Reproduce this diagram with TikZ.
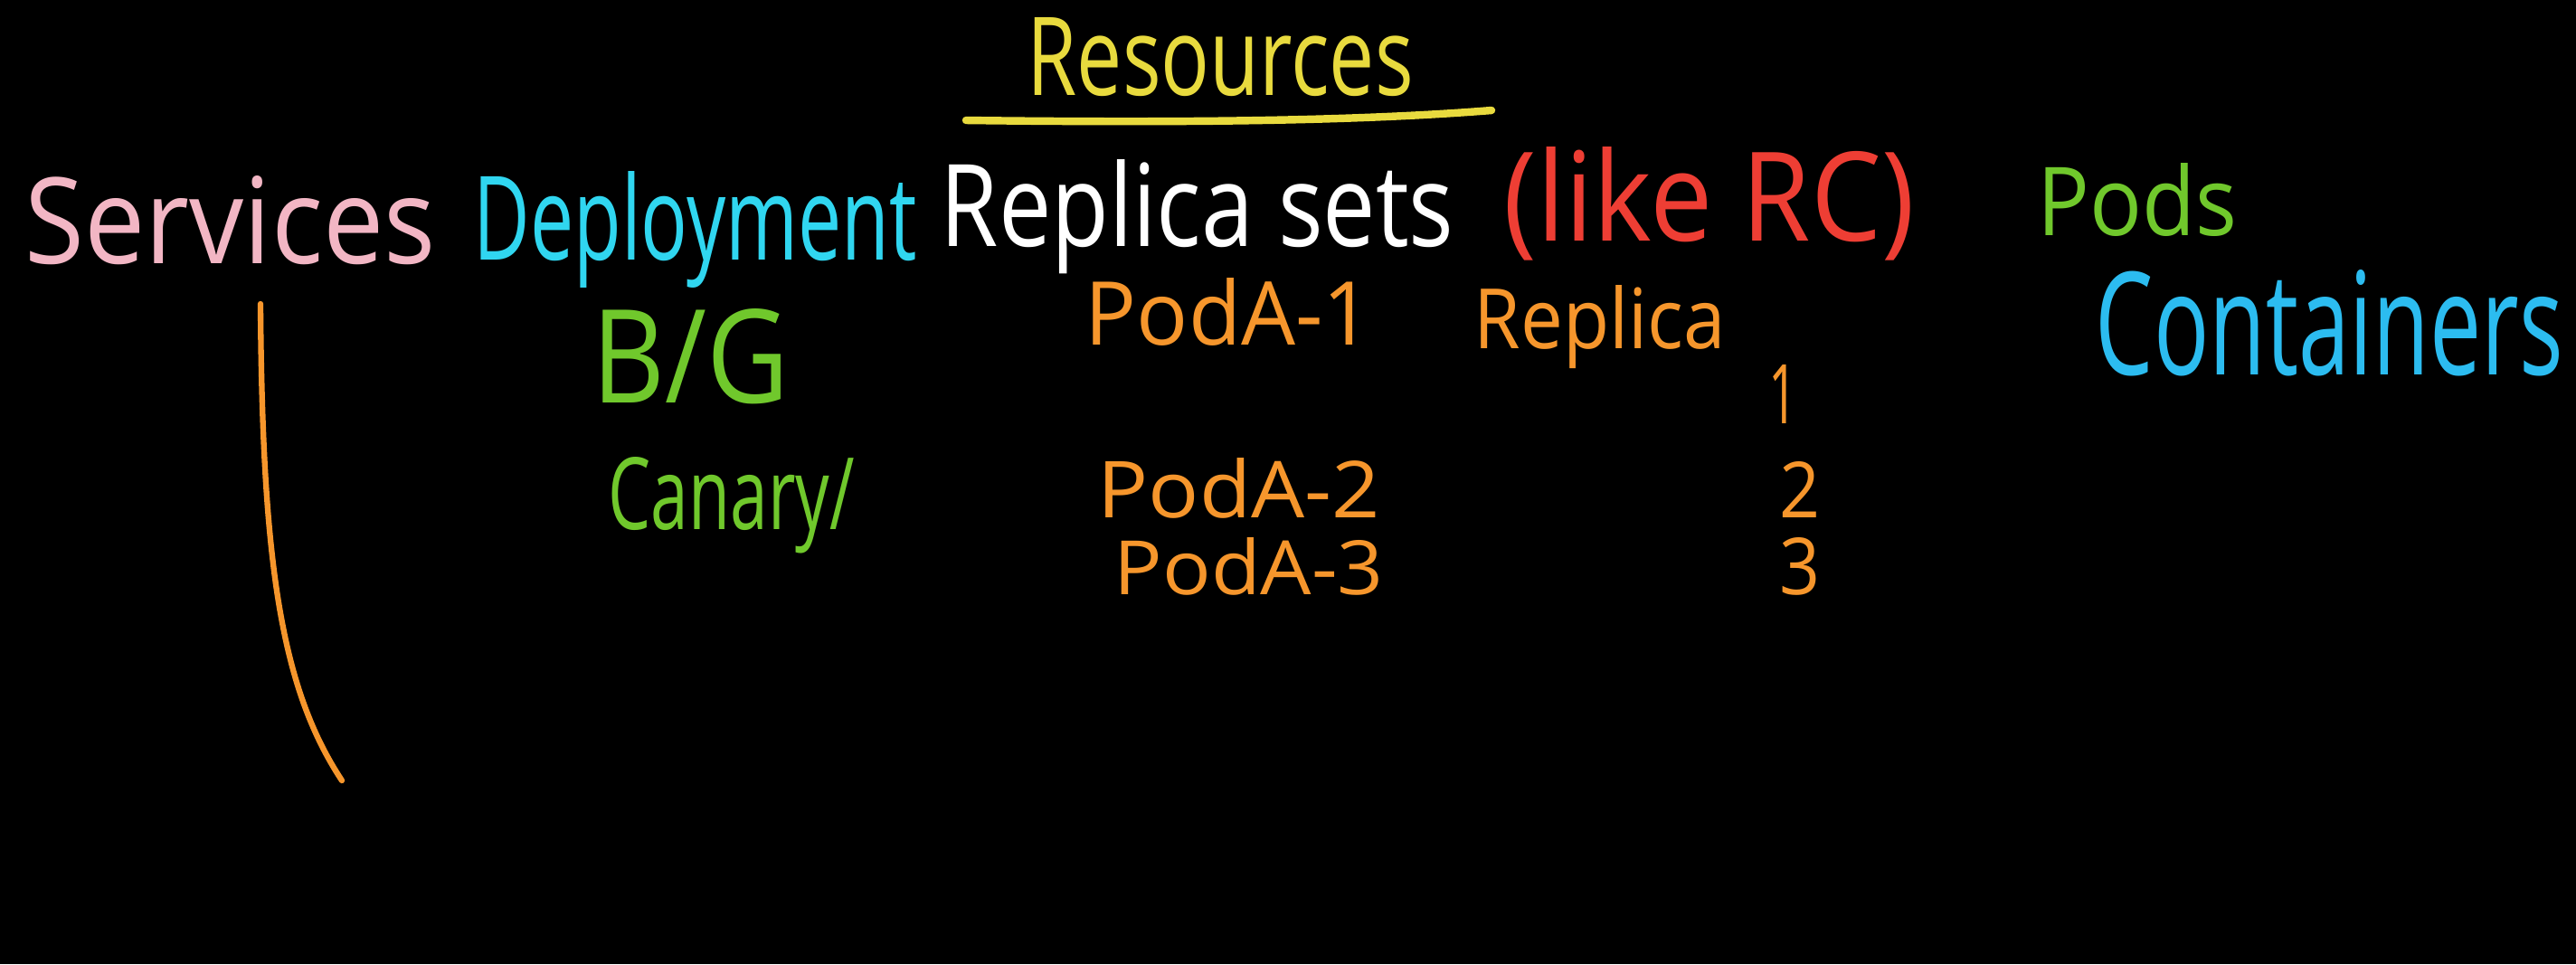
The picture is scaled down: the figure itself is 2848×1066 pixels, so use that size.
\documentclass[tikz,border=0pt]{standalone}
\usepackage{fontspec}
\setmainfont{Open Sans}
\usepackage{graphicx}
\usepackage{tikz}
\usetikzlibrary{positioning, calc}
\definecolor{myyellow}{RGB}{232,218,62}
\definecolor{mypink}{RGB}{242,182,196}
\definecolor{mycyan}{RGB}{48,214,240}
\definecolor{myred}{RGB}{238,62,52}
\definecolor{mygreen}{RGB}{112,200,44}
\definecolor{myblue}{RGB}{44,188,240}
\definecolor{myorange}{RGB}{246,150,44}
\newlength\pxu
\setlength\pxu{0.01cm}
% text squeezed to the width and height measured on the board
\newcommand{\hand}[3]{\resizebox{#1\pxu}{#2\pxu}{#3}}
\tikzset{
  lbl/.style={inner sep=0pt, anchor=base west, text=#1},
  stroke/.style={line width=1.8pt, line cap=round, color=#1}
}

\begin{document}
\begin{tikzpicture}[x=0.01cm, y=-0.01cm]
  \fill[black] (0,0) rectangle (2848,1066);
  \useasboundingbox (0,0) rectangle (2848,1066);
  % title and underline
  \node[lbl=myyellow] (res) at (1135,105) {\hand{427}{86}{Resources}};
  \coordinate (ulL) at (1068,133);
  \coordinate (ulR) at (1649,122);
  \draw[stroke=myyellow, line width=2.4pt] (ulL) .. controls (1300,136) and (1500,134) .. (ulR);
  % top row of resources
  \node[lbl=mypink] (svc) at (27,291) {\hand{454}{97}{Services}};
  \node[lbl=mycyan] (dep) at (523,287) {\hand{490}{98}{Deployment}};
  \node[lbl=white] (rs) at (1039,272) {\hand{568}{96}{Replica sets}};
  \node[lbl=myred] (rc) at (1662,266) {\hand{454}{104}{(like RC)}};
  \node[lbl=mygreen] (pods) at (2252,260) {\hand{221}{80}{Pods}};
  \node[lbl=myblue] (ctr) at (2316,414) {\hand{517}{116}{Containers}};
  % deployment strategies
  \node[lbl=mygreen] (bg) at (654,445) {\hand{218}{104}{B/G}};
  \node[lbl=mygreen] (can) at (672,585) {\hand{272}{80}{Canary/}};
  % replica set pods
  \node[lbl=myorange] (pa1) at (1199,381) {\hand{317}{74}{PodA-1}};
  \node[lbl=myorange] (rep) at (1629,385) {\hand{278}{70}{Replica}};
  \node[lbl=myorange] (n1) at (1955,468) {\hand{32}{65}{1}};
  \node[lbl=myorange] (pa2) at (1213,572) {\hand{312}{66}{PodA-2}};
  \node[lbl=myorange] (n2) at (1967,572) {\hand{45}{62}{2}};
  \node[lbl=myorange] (pa3) at (1231,657) {\hand{298}{63}{PodA-3}};
  \node[lbl=myorange] (n3) at (1967,657) {\hand{45}{63}{3}};
  % line under services
  \coordinate (svcTop) at (288,336);
  \coordinate (svcBot) at (378,863);
  \draw[stroke=myorange] (svcTop) .. controls (290,620) and (310,760) .. (svcBot);
\end{tikzpicture}
\end{document}
